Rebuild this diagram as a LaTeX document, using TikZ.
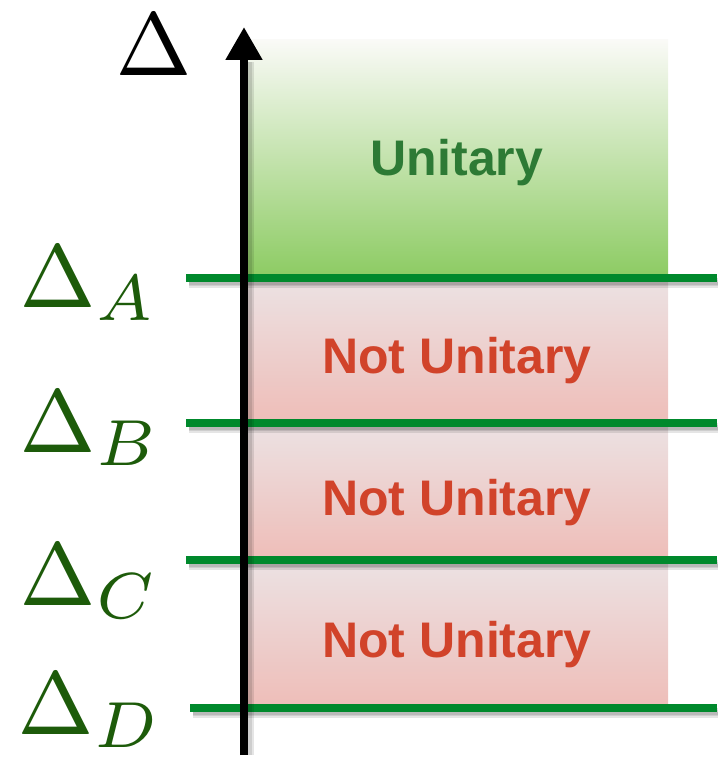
\documentclass[tikz,border=0pt]{standalone}
\usepackage{graphicx}
\usepackage{fontspec}
\newfontfamily\hv{Liberation Sans}
\usetikzlibrary{arrows.meta}
\definecolor{lvgreen}{RGB}{0,137,44}
\definecolor{labgreen}{RGB}{29,91,10}
\definecolor{unigreen}{RGB}{45,122,53}
\definecolor{nured}{RGB}{209,67,42}
\definecolor{gtop}{RGB}{250,250,247}
\definecolor{gbot}{RGB}{140,203,98}
\definecolor{rtop}{RGB}{236,226,227}
\definecolor{rbot}{RGB}{238,189,184}
\newcommand{\bigDelta}{\scalebox{1.26}[1.38]{$\scriptstyle\Delta$}}
\newcommand{\biglab}[1]{\scalebox{9.3}{$#1$}}
\tikzset{
  level/.style={draw=lvgreen, line width=8pt},
  lshadow/.style={draw=black, line width=10pt, opacity=0.10},
  deltalab/.style={inner sep=0pt, anchor=base west, text=labgreen},
  regtext/.style={inner sep=0pt, anchor=base, font=\hv\bfseries\fontsize{50}{56}\selectfont},
}
\begin{document}
\begin{tikzpicture}[x=1pt,y=-1pt]
\useasboundingbox (0,0) rectangle (717,757);
% regions
\shade[top color=gtop, bottom color=gbot] (248,40) rectangle (668,278);
\shade[top color=rtop, bottom color=rbot] (248,278) rectangle (668,423);
\shade[top color=rtop, bottom color=rbot] (248,423) rectangle (668,560);
\shade[top color=rtop, bottom color=rbot] (248,560) rectangle (668,708);
% level line coordinates
\coordinate (a1) at (186,278); \coordinate (a2) at (717,278);
\coordinate (b1) at (186,423); \coordinate (b2) at (717,423);
\coordinate (c1) at (186,560); \coordinate (c2) at (717,560);
\coordinate (d1) at (190,708); \coordinate (d2) at (717,708);
% shadows
\foreach \p/\q in {a1/a2,b1/b2,c1/c2,d1/d2}{
  \draw[lshadow] ([shift={(3,5)}]\p) -- ([shift={(3,5)}]\q);
  \draw[lshadow, line width=6pt] ([shift={(3,5)}]\p) -- ([shift={(3,5)}]\q);
  \draw[lshadow, line width=3pt] ([shift={(3,5)}]\p) -- ([shift={(3,5)}]\q);
}
% levels
\draw[level] (a1) -- (a2);
\draw[level] (b1) -- (b2);
\draw[level] (c1) -- (c2);
\draw[level] (d1) -- (d2);
% axis
\coordinate (ax0) at (244,755);
\coordinate (ax1) at (244,27);
\draw[black, opacity=0.10, line width=12pt] (248,755) -- (248,62);
\draw[black, opacity=0.10, line width=8pt] (248,755) -- (248,62);
\draw[line width=8pt, -{Triangle[width=35pt,length=33pt]}] (ax0) -- (ax1);
% texts
\node[regtext, text=unigreen] (u) at (457,175) {Unitary};
\node[regtext, text=nured] (n1) at (457,373) {Not Unitary};
\node[regtext, text=nured] (n2) at (457,515) {Not Unitary};
\node[regtext, text=nured] (n3) at (457,657) {Not Unitary};
% labels
\node[deltalab, text=black] (dl) at (115,76) {\biglab{\bigDelta}};
\node[deltalab] (da) at (19,307) {\biglab{\bigDelta_A}};
\node[deltalab] (db) at (19,452) {\biglab{\bigDelta_B}};
\node[deltalab] (dc) at (19,605) {\biglab{\bigDelta_C}};
\node[deltalab] (dd) at (17,734) {\biglab{\bigDelta_D}};
\end{tikzpicture}
\end{document}
